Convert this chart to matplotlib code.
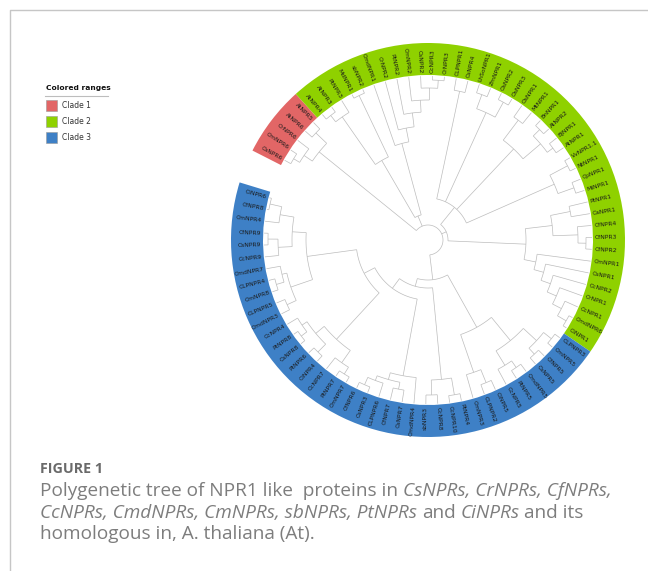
import numpy as np
import matplotlib.pyplot as plt
from matplotlib.patches import Wedge, Rectangle

# Tree, Newick style; the number after ")" is the node radius in px
red_clade = "(((CsNPR6,CmNPR6)157,CrNPR6)150,(AtNPR6,AtNPR5)155)140"
green_upper = ("((((AtNPR4,AtNPR3)158,PtNPR3)150,(MdNPR1,sbNPR2)160)92,"
               "(CmdNPR1,(CrNPR2,(PtNPR2,(CmNPR2,(CsNPR2,(CcNPR3,CrNPR3)160)152)140)128)114)100)26")
green_mid = ("((CLPNPR1,CsNPR4)152,((LhSoNPR1,ZmNPR1)155,(OsNPR2,OsNPR3)157)140,"
             "((OsNPR1,MtNPR1)150,((BnNPR1,AtNPR2)157,(BjNPR1,AtNPR1)155)148)125,"
             "((VvNPR1.1,NtNPR1)158,(CpNPR1,MiNPR1)155)138)42")
green_right = ("(((PtNPR1,CaNPR1)145,(CfNPR4,(CfNPR3,CfNPR2)158)150)125,"
               "(CmNPR1,(CsNPR1,(CcNPR2,(CrNPR1,(CcNPR1,(CmdNPR6,CiNPR1)160)150)140)130)120)110)98")
blue_lr = ("((((CLPNPR3,CmNPR5)158,(CfNPR5,CsNPR5)156)148,((CmdNPR5,PtNPR5)155,CcNPR5)147)130,"
           "((CiNPR5,CLPNPR2)154,CmNPR3)140)100")
blue_b1 = "((PtNPR4,CcNPR10)157,(CcNPR8,sbNPR3)155)140"
blue_b2 = "(CmdNPR4,((CsNPR7,CfNPR7)152,(CLPNPR6,(CsNPR3,CfNPR6)158)150)145)138"
blue_b3 = "(((CmNPR7,PtNPR7)158,CcNPR7)150,((CiNPR4,PtNPR6)157,((CsNPR8,PtNPR8)159,CcNPR4)152)146)135"
blue_left = ("(((CmdNPR3,CLPNPR5)155,((CmNPR8,CLPNPR4)158,CmdNPR7)150)145,"
             "((CcNPR9,(CsNPR9,CfNPR9)160)150,(CmNPR4,(CfNPR8,CiNPR6)162)150)136)122")

clade_names = ['Clade 1', 'Clade 2', 'Clade 3']
clade_colors = ['#E26666', '#8FD100', '#3E80C6']

blue_clade = f"({blue_lr},({blue_b1},({blue_b2},({blue_b3},{blue_left})72)60)48)40"
tree_str = f"({red_clade},{green_upper},({green_mid},{green_right})20,{blue_clade})15"


def parse(s):
    pos = 0

    def node():
        nonlocal pos
        if s[pos] == '(':
            pos += 1
            kids = [node()]
            while s[pos] == ',':
                pos += 1
                kids.append(node())
            pos += 1
            start = pos
            while pos < len(s) and s[pos] not in ',()':
                pos += 1
            return {'kids': kids, 'r': float(s[start:pos])}
        start = pos
        while s[pos] not in ',()':
            pos += 1
        return {'name': s[start:pos]}
    return node()


def get_leaves(n, out):
    if 'name' in n:
        out.append(n)
    else:
        for k in n['kids']:
            get_leaves(k, out)
    return out


tree = parse(tree_str)
leaves = get_leaves(tree, [])
n_red = len(get_leaves(parse(red_clade), []))
n_blue = len(get_leaves(parse(blue_clade), []))
n_green = len(leaves) - n_red - n_blue

# geometry (px, y up)
W, H = 648, 571
cx, cy = 428, H - 240
R_TIP, R_LAB, R_IN, R_OUT = 164, 167, 165, 197
START, SPAN = 153.0, 350.0
step = SPAN / len(leaves)

for i, lf in enumerate(leaves):
    lf['a'] = START - step * (i + 0.5)
    lf['r'] = R_TIP


def set_angle(n):
    if 'name' in n:
        return n['a']
    angs = [set_angle(k) for k in n['kids']]
    n['a'] = (angs[0] + angs[-1]) / 2
    return n['a']


set_angle(tree)

fig = plt.figure(figsize=(6.48, 5.71), dpi=100)
ax = fig.add_axes([0, 0, 1, 1])
ax.set_xlim(0, W)
ax.set_ylim(0, H)
ax.axis('off')

# page frame
ax.plot([9.5, 9.5, W], [0, H - 9.5, H - 9.5], color='#c6c6c6', lw=1)

# colored ranges
bounds = [START, START - n_red * step, START - (n_red + n_green) * step,
          START - len(leaves) * step]
for k in range(3):
    ax.add_patch(Wedge((cx, cy), R_OUT, bounds[k + 1], bounds[k], width=R_OUT - R_IN,
                       facecolor=clade_colors[k], edgecolor='none'))

line_kw = dict(color='#bcbcbc', lw=0.5, solid_capstyle='butt')


def pol(r, a):
    t = np.radians(a)
    return cx + r * np.cos(t), cy + r * np.sin(t)


def draw(n):
    if 'name' in n:
        return
    a0, a1 = n['kids'][0]['a'], n['kids'][-1]['a']
    t = np.radians(np.linspace(a0, a1, 60))
    ax.plot(cx + n['r'] * np.cos(t), cy + n['r'] * np.sin(t), **line_kw)
    for k in n['kids']:
        x0, y0 = pol(n['r'], k['a'])
        x1, y1 = pol(k['r'], k['a'])
        ax.plot([x0, x1], [y0, y1], **line_kw)
        draw(k)


draw(tree)

for lf in leaves:
    a = lf['a'] % 360
    x, y = pol(R_LAB, a)
    if 90 < a < 270:
        rot, ha = a - 180, 'right'
    else:
        rot, ha = a, 'left'
    ax.text(x, y, lf['name'], rotation=rot, ha=ha, va='center', rotation_mode='anchor',
            fontsize=4.3, color='#1a1a1a', family='DejaVu Sans')

# legend
ax.text(46, H - 88, 'Colored ranges', fontsize=5.4, fontweight='bold', va='center', color='#111')
ax.plot([45, 108], [H - 95.5, H - 95.5], color='#bdbdbd', lw=0.8)
for k in range(3):
    yk = 105 + 16 * k
    ax.add_patch(Rectangle((46, H - yk - 5.5), 11, 11, facecolor=clade_colors[k],
                           edgecolor='#9a9a9a', lw=0.4))
    ax.text(62, H - yk, clade_names[k], fontsize=5.5, va='center', color='#333')

# caption
cap_color = '#7d7d7d'
ax.text(40, H - 473, 'FIGURE 1', fontsize=10.3, fontweight='bold', color='#6a6a6a',
        family='Open Sans', va='baseline')

renderer = fig.canvas.get_renderer()
cap_size = 13.7


def text_w(s, style):
    t = ax.text(0, 0, s, fontsize=cap_size, style=style, family='Open Sans')
    w = t.get_window_extent(renderer=renderer).width
    t.remove()
    return w


space_w = text_w('x x', 'normal') - text_w('xx', 'normal')

caption_lines = [
    [('Polygenetic tree of NPR1 like  proteins in', 'normal'), ('CsNPRs, CrNPRs, CfNPRs,', 'italic')],
    [('CcNPRs, CmdNPRs, CmNPRs, sbNPRs, PtNPRs', 'italic'), ('and', 'normal'),
     ('CiNPRs', 'italic'), ('and its', 'normal')],
    [('homologous in, A. thaliana (At).', 'normal')],
]
baselines = [495.5, 517.5, 539]
for parts, yb in zip(caption_lines, baselines):
    x = 40
    for txt, style in parts:
        t = ax.text(x, H - yb, txt, fontsize=cap_size, style=style, family='Open Sans',
                    color=cap_color, va='baseline')
        x += t.get_window_extent(renderer=renderer).width + space_w

fig.savefig('out.png', dpi=100)
